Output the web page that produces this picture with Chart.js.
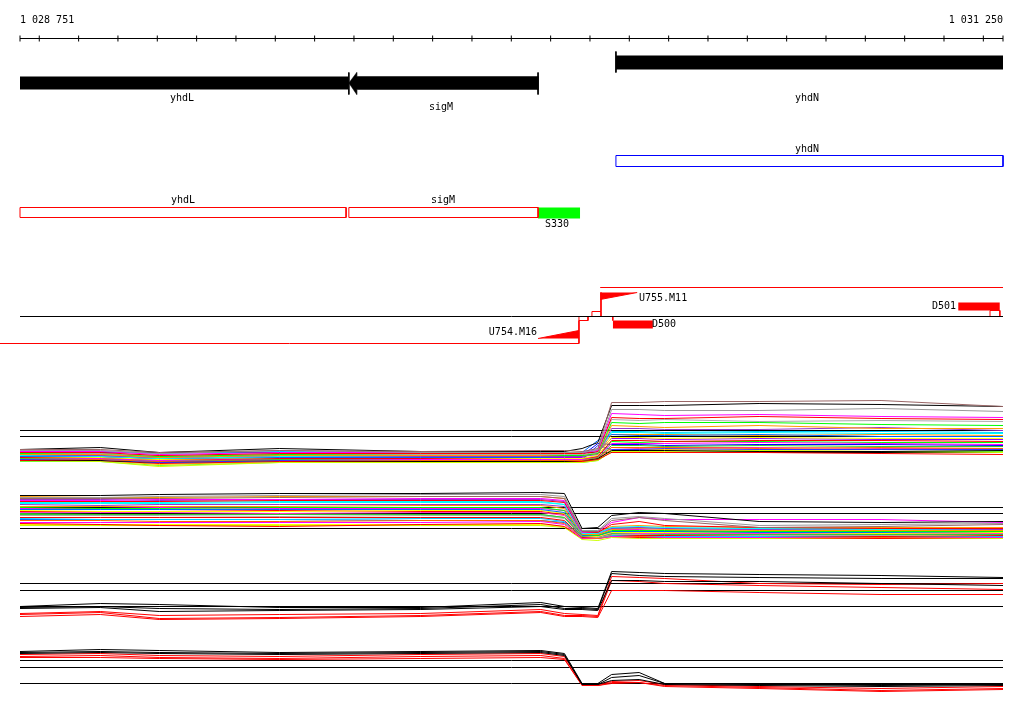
<!DOCTYPE html>
<html><head><meta charset="utf-8">
<script src="https://cdn.jsdelivr.net/npm/chart.js@4.4.0/dist/chart.umd.min.js"></script>
<style>html,body{margin:0;padding:0;background:#fff;overflow:hidden}canvas{display:block}</style>
</head><body>
<canvas id="c" width="1024" height="714"></canvas>
<script>
// ================= DATA =================
const RANGE_START = 1028751;
const RANGE_END = 1031250;
const rulerLabels = ['1 028 751', '1 031 250'];
const rulerTicks = [1028751, 1028800, 1028900, 1029000, 1029100, 1029200, 1029300, 1029400, 1029500,
  1029600, 1029700, 1029800, 1029900, 1030000, 1030100, 1030200, 1030300, 1030400, 1030500,
  1030600, 1030700, 1030800, 1030900, 1031000, 1031100, 1031200, 1031250];

// coding sequences (clipped to window)
const cdsNames = ['yhdL', 'sigM', 'yhdN'];
const cdsStart = [1028751, 1029587, 1030266];
const cdsEnd = [1029587, 1030068, 1031250];
const cdsStrand = ['-', '-', '+'];

// second annotation row
const row2Names = ['yhdN'];
const row2Start = [1030266];
const row2End = [1031250];

// third annotation row
const row3Names = ['yhdL', 'sigM'];
const row3Start = [1028751, 1029587];
const row3End = [1029580, 1030068];
const segmentName = 'S330';
const segmentStart = 1030068;
const segmentEnd = 1030175;

// transcription units
const tuNames = ['U754.M16', 'U755.M11'];
const tuBodyStart = [1028700, 1030226];
const tuBodyEnd = [1030172, 1031250];
const tuWedgeStart = [1030068, 1030226];
const tuWedgeEnd = [1030172, 1030320];
const tuBoxStart = [1030172, 1030205];
const tuBoxEnd = [1030195, 1030228];
const downNames = ['D500', 'D501'];
const downStart = [1030258, 1031136];
const downEnd = [1030360, 1031242];
const d501BoxStart = 1031217;
const d501BoxEnd = 1031242;

// probe positions of the profiles
const probePos = [1028751, 1028955, 1029105, 1029410, 1029770, 1030075, 1030135, 1030180,
  1030220, 1030255, 1030325, 1030390, 1030630, 1030940, 1031250];

// panel 1 profiles
const p1_01 = [8.6,8.6,8.3,8.5,8.4,8.5,8.5,8.4,8.7,13.3,13.3,13.4,13.4,13.5,12.9];
const p1_02 = [8.6,8.8,8.3,8.7,8.4,8.4,8.4,8.7,9.3,13.0,13.0,13.0,13.2,13.1,12.9];
const p1_03 = [8.5,8.5,8.2,8.5,8.3,8.3,8.3,8.3,8.6,12.6,12.6,12.5,12.5,12.7,12.4];
const p1_04 = [8.4,8.4,8.1,8.3,8.3,8.3,8.3,8.3,8.5,12.2,12.1,12.0,12.1,11.9,11.8];
const p1_05 = [8.3,8.3,8.0,8.2,8.2,8.2,8.2,8.2,8.4,11.8,11.7,11.7,11.9,11.7,11.6];
const p1_06 = [8.3,8.2,8.0,8.2,8.1,8.1,8.1,8.1,8.3,11.6,11.5,11.6,11.4,11.5,11.4];
const p1_07 = [8.2,8.2,7.9,8.1,8.1,8.1,8.0,8.0,8.2,11.3,11.2,11.3,11.3,11.1,11.0];
const p1_08 = [8.1,8.1,7.8,8.0,8.0,8.0,8.0,8.0,8.2,11.0,10.9,10.8,11.0,10.7,10.7];
const p1_09 = [8.1,8.0,7.8,8.0,7.9,7.9,7.9,7.9,8.1,10.7,10.7,10.6,10.6,10.8,10.5];
const p1_10 = [8.0,7.9,7.7,7.9,7.9,7.9,7.9,7.9,8.3,10.3,10.3,10.2,10.3,10.2,10.2];
const p1_11 = [7.9,7.9,7.7,7.8,7.8,7.8,7.9,8.3,9.5,10.1,10.0,10.0,10.1,9.9,9.9];
const p1_12 = [7.9,7.8,7.6,7.8,7.8,7.7,7.7,7.7,8.0,9.8,9.8,9.7,9.8,9.7,9.7];
const p1_13 = [7.8,7.8,7.6,7.7,7.7,7.7,7.7,7.7,7.9,9.5,9.5,9.4,9.5,9.5,9.4];
const p1_14 = [7.8,7.7,7.5,7.7,7.6,7.6,7.6,7.6,7.9,9.2,9.2,9.2,9.3,9.2,9.1];
const p1_15 = [7.7,7.7,7.5,7.6,7.6,7.6,7.6,7.6,7.8,9.0,9.0,8.9,9.0,8.9,8.9];
const p1_16 = [7.7,7.6,7.4,7.6,7.5,7.5,7.5,7.5,7.8,8.8,8.8,8.8,8.7,8.8,8.7];
const p1_17 = [7.6,7.6,7.3,7.5,7.5,7.5,7.5,7.6,9.0,8.6,8.6,8.7,8.6,8.6,8.6];
const p1_18 = [7.6,7.5,7.3,7.5,7.4,7.4,7.4,7.5,7.7,8.5,8.5,8.5,8.4,8.4,8.5];
const p1_19 = [7.5,7.5,7.2,7.4,7.4,7.4,7.4,7.4,7.6,8.3,8.3,8.3,8.3,8.2,8.1];
const p1_20 = [7.5,7.4,6.9,7.3,7.3,7.3,7.3,7.3,7.5,8.4,8.4,8.4,8.5,8.4,8.3];
const p1_21 = [8.5,8.4,8.2,8.4,8.3,8.3,8.3,8.3,8.5,10.4,10.4,10.3,10.4,10.4,10.3];
const p1_22 = [8.2,8.1,7.9,8.1,8.0,8.0,8.0,8.0,8.2,10.1,10.1,10.1,10.0,10.1,10.0];
const p1_23 = [8.0,8.0,7.7,7.9,7.9,7.8,7.8,7.8,8.4,9.7,9.7,9.6,9.7,9.6,9.6];
const p1_24 = [7.8,7.8,7.6,7.7,7.7,7.7,7.7,7.7,7.9,9.4,9.3,9.4,9.4,9.3,9.3];
const p1_25 = [7.7,7.7,7.4,7.6,7.6,7.6,7.6,8.0,9.2,9.1,9.1,9.0,9.1,9.1,9.0];
const p1_26 = [7.6,7.6,7.4,7.6,7.5,7.5,7.5,7.5,7.7,8.8,8.7,8.8,8.8,8.7,8.7];
const p1_27 = [7.5,7.5,7.1,7.4,7.4,7.4,7.4,7.4,7.6,8.6,8.6,8.6,8.5,8.6,8.6];
const p1_28 = [7.4,7.4,7.0,7.3,7.3,7.3,7.3,7.3,7.5,8.4,8.4,8.3,8.4,8.4,8.4];
const panel1Refs = [10.5, 9.9, 8.3];

// panel 2 profiles
const p2_01 = [13.5,13.5,13.6,13.7,13.7,13.8,13.7,10.2,10.3,11.5,11.8,11.7,10.9,10.8,10.9];
const p2_02 = [13.3,13.3,13.4,13.5,13.6,13.6,13.4,10.0,10.0,11.2,11.4,11.2,10.5,10.6,10.7];
const p2_03 = [13.2,13.2,13.2,13.3,13.4,13.4,13.2,9.9,9.9,11.0,11.3,11.0,10.3,10.4,10.6];
const p2_04 = [13.0,13.0,13.1,13.1,13.2,13.2,13.0,9.8,9.9,10.8,11.3,11.1,11.1,11.1,10.8];
const p2_05 = [12.9,12.9,12.9,13.0,13.0,13.0,12.8,9.8,9.8,10.6,10.9,10.5,10.3,10.2,10.2];
const p2_06 = [12.7,12.7,12.7,12.8,12.8,12.8,12.6,9.7,9.7,10.3,10.4,10.3,10.2,10.1,10.2];
const p2_07 = [12.6,12.5,12.6,12.6,12.6,12.6,12.4,9.7,9.7,10.2,10.3,10.2,10.1,10.1,10.1];
const p2_08 = [12.4,12.4,12.4,12.4,12.5,12.5,12.2,9.6,9.6,10.1,10.2,10.1,10.0,10.0,10.0];
const p2_09 = [12.3,12.2,12.2,12.3,12.3,12.3,12.0,9.6,9.5,10.0,10.0,10.0,9.9,9.9,9.9];
const p2_10 = [12.1,12.1,12.1,12.1,12.1,12.1,11.8,9.5,9.5,9.9,9.9,9.9,9.8,9.8,9.9];
const p2_11 = [12.0,11.9,11.9,11.9,12.0,12.0,11.7,9.5,9.4,9.8,9.8,9.8,9.8,9.7,9.8];
const p2_12 = [11.8,11.8,11.8,11.7,11.8,11.8,11.5,9.5,9.4,9.8,9.7,9.7,9.7,9.7,9.7];
const p2_13 = [11.7,11.6,11.6,11.6,11.6,11.6,11.3,9.4,9.4,9.7,9.7,9.6,9.6,9.6,9.6];
const p2_14 = [11.5,11.5,11.5,11.4,11.5,11.5,11.2,9.4,9.3,9.6,9.6,9.6,9.5,9.5,9.6];
const p2_15 = [11.3,11.3,11.3,11.3,11.3,11.3,11.0,9.3,9.3,9.6,9.5,9.5,9.5,9.4,9.5];
const p2_16 = [11.2,11.1,11.1,11.1,11.2,11.2,10.9,9.3,9.3,9.5,9.5,9.4,9.4,9.4,9.4];
const p2_17 = [11.0,11.0,10.9,10.9,11.0,11.0,10.7,9.3,9.2,9.5,9.4,9.4,9.4,9.3,9.4];
const p2_18 = [10.8,10.8,10.8,10.8,10.8,10.9,10.6,9.2,9.2,9.4,9.4,9.3,9.3,9.3,9.3];
const p2_19 = [10.7,10.6,10.5,10.4,10.6,10.7,10.4,9.2,9.2,9.4,9.3,9.3,9.3,9.2,9.3];
const p2_20 = [10.5,10.5,10.5,10.5,10.5,10.5,10.3,9.1,9.0,9.3,9.2,9.2,9.2,9.2,9.2];
const p2_21 = [13.4,13.3,13.3,13.4,13.4,13.4,13.2,9.9,9.9,10.4,10.5,10.4,10.3,10.3,10.3];
const p2_22 = [12.8,12.8,12.8,12.9,12.9,12.9,12.6,9.8,9.8,10.2,10.2,10.2,10.2,10.2,10.1];
const p2_23 = [12.2,12.2,12.3,12.2,12.2,12.2,12.0,9.7,9.6,10.1,10.1,10.0,10.1,10.0,10.0];
const p2_24 = [11.6,11.6,11.6,11.6,11.6,11.6,11.3,9.6,9.5,9.9,9.9,9.9,9.9,9.9,9.8];
const p2_25 = [11.1,11.1,11.1,11.1,11.0,11.0,10.8,9.5,9.4,9.7,9.7,9.7,9.7,9.7,9.7];
const p2_26 = [10.6,10.6,10.6,10.6,10.6,10.6,10.4,9.4,9.3,9.6,9.6,9.5,9.6,9.5,9.5];
const p2_27 = [13.1,13.1,13.0,13.1,13.1,13.1,12.9,9.8,9.8,10.3,10.3,10.2,10.2,10.2,10.2];
const p2_28 = [11.9,11.9,11.9,12.0,11.9,11.9,11.6,9.5,9.5,9.8,9.8,9.8,9.8,9.7,9.8];
const panel2Refs = [12.3, 11.7, 10.2];

// panel 3 profiles
const p3_black1 = [9.9,10.2,10.1,9.8,9.8,10.3,9.9,9.8,9.7,13.4,13.3,13.2,13.1,13.0,12.8];
const p3_black2 = [9.8,9.9,9.7,9.6,9.7,10.1,9.7,9.7,9.6,13.2,13.0,12.9,12.8,12.7,12.7];
const p3_black3 = [9.7,9.8,9.4,9.5,9.6,9.9,9.6,9.6,9.5,12.5,12.5,12.4,12.4,12.2,12.0];
const p3_red1 = [9.2,9.4,9.0,9.1,9.2,9.6,9.2,9.1,9.0,12.9,12.8,12.7,12.2,12.1,12.2];
const p3_red2 = [9.1,9.3,8.7,8.8,9.0,9.4,9.0,9.0,8.9,12.5,12.4,12.2,12.0,11.8,11.6];
const p3_red3 = [8.9,9.1,8.6,8.7,8.9,9.3,8.9,8.9,8.8,11.5,11.5,11.5,11.3,11.1,11.1];
const panel3Refs = [12.2, 11.5, 9.9];

// panel 4 profiles
const p4_black1 = [13.4,13.6,13.5,13.3,13.4,13.5,13.2,10.2,10.2,11.1,11.3,10.2,10.1,10.0,10.1];
const p4_black2 = [13.3,13.4,13.3,13.2,13.3,13.4,13.1,10.1,10.1,10.8,11.0,10.2,10.1,10.1,10.1];
const p4_black3 = [13.2,13.3,13.2,13.1,13.2,13.3,13.0,10.1,10.1,10.5,10.6,10.1,10.0,9.9,10.0];
const p4_red1 = [13.1,13.2,13.0,12.9,13.1,13.2,12.9,10.1,10.1,10.4,10.5,10.1,9.9,9.7,9.9];
const p4_red2 = [12.9,13.0,12.8,12.7,12.9,13.0,12.7,10.0,10.0,10.3,10.3,10.0,9.8,9.5,9.7];
const p4_red3 = [12.8,12.8,12.7,12.6,12.7,12.8,12.6,10.0,10.0,10.2,10.3,9.9,9.7,9.4,9.6];
const panel4Refs = [12.5, 11.8, 10.2];

// ================= LAYOUT / STYLE =================
const W = 1024, H = 714, X_LEFT_PX = 20, X_RIGHT_PX = 1003;
const bpPerPx = (RANGE_END - RANGE_START) / (X_RIGHT_PX - X_LEFT_PX);
const xMin = RANGE_START - X_LEFT_PX * bpPerPx;
const xMax = RANGE_END + (W - X_RIGHT_PX) * bpPerPx;
const L = {
  rulerLabelY: 20, rulerY: 38,
  cdsMinusTop: 76, cdsMinusBot: 89, cdsMinusTickTop: 72, cdsMinusTickBot: 94,
  cdsPlusTop: 55, cdsPlusBot: 69, cdsPlusTickTop: 51, cdsPlusTickBot: 72,
  cdsLabelY: [98, 107, 98],
  row2Top: 155, row2Bot: 166, row2LabelY: 149,
  row3Top: 207, row3Bot: 217, row3LabelY: 200, segLabelY: 224,
  tuBase: 316, tuLineY: [343, 287],
  tuWedgeFlat: [338, 292], tuWedgeTall: [330, 299],
  tuBoxTop: [316, 311], tuBoxBot: [320, 316],
  tuLabelY: [332, 298],
  downTop: [320, 302], downBot: [328, 310], downLabelY: [324, 306],
  d501BoxTop: 310, d501BoxBot: 316,
  panelZero: [535, 630, 705, 785], pxPerUnit: 10,
  arrowBp: 20
};
const colors1 = ['#996666','#000000','#999999','#FF00FF','#FF0000','#AAAAAA','#00FF00','#FF9900','#9933CC','#00FFFF',
  '#0066FF','#FFFF00','#FF0000','#FF00FF','#33CC33','#FF6600','#3333FF','#000000','#FF0000','#CCFF00',
  '#00CCFF','#FF9900','#9900FF','#00FF00','#0000FF','#FF3399','#FFCC00','#66FF33'];
const colors2 = ['#000000','#999999','#996666','#FF00FF','#FF0000','#00FFFF','#9933CC','#FF9900','#00FF00','#0066FF',
  '#FFFF00','#FF33CC','#33CC33','#AAAAAA','#FF0000','#00CCFF','#FF6600','#FF00FF','#FF0000','#CCFF00',
  '#FF9900','#00FFFF','#FF00FF','#33CC33','#0066FF','#FFFF00','#9933CC','#FF0000'];
const RED = '#FF0000';

// ================= DATASETS =================
const ds = [];
function base(extra) {
  return Object.assign({ yAxisID: 'yt', pointRadius: 0, borderWidth: 1, fill: false, tension: 0, order: 3 }, extra);
}
function hseg(x1, x2, y, color) { ds.push(base({ data: [{x:x1,y},{x:x2,y}], borderColor: color })); }
function vseg(x, y1, y2, color) { ds.push(base({ data: [{x,y:y1},{x,y:y2}], borderColor: color })); }
function rect(x1, x2, y1, y2, color) {
  ds.push(base({ data: [{x:x1,y:y1},{x:x2,y:y1}], borderWidth: 0, borderColor: 'rgba(0,0,0,0)',
    backgroundColor: color, fill: { value: y2 } }));
}
function box(x1, x2, y1, y2, color) {
  ds.push(base({ data: [{x:x1,y:y1},{x:x2,y:y1},{x:x2,y:y2},{x:x1,y:y2},{x:x1,y:y1}], borderColor: color }));
}
function poly(pts, color) {
  ds.push(base({ data: pts, borderColor: color, borderWidth: 0.5, backgroundColor: color, fill: 'shape' }));
}
function wedge(x1, y1, x2, y2, flatY, color) {
  ds.push(base({ data: [{x:x1,y:y1},{x:x2,y:y2}], borderColor: color, backgroundColor: color, fill: { value: flatY } }));
}

// ruler
hseg(RANGE_START, RANGE_END, L.rulerY, '#000');
ds.push(base({ data: rulerTicks.map(t => ({x: t, y: L.rulerY})), showLine: false,
  pointStyle: 'line', pointRotation: 90, pointRadius: 3, pointBorderWidth: 1, pointBorderColor: '#000' }));

// CDS
cdsNames.forEach((n, i) => {
  const s = cdsStart[i], e = cdsEnd[i];
  if (cdsStrand[i] === '-') {
    const top = L.cdsMinusTop, bot = L.cdsMinusBot;
    if (s > RANGE_START) {
      const mid = (top + bot) / 2, a = s + L.arrowBp;
      poly([{x:s,y:mid},{x:a,y:L.cdsMinusTickTop},{x:a,y:top},{x:e,y:top},{x:e,y:bot},{x:a,y:bot},{x:a,y:L.cdsMinusTickBot},{x:s,y:mid}], '#000');
    } else {
      rect(s, e, top, bot, '#000');
    }
    vseg(e, L.cdsMinusTickTop, L.cdsMinusTickBot, '#000');
  } else {
    rect(s, e, L.cdsPlusTop, L.cdsPlusBot, '#000');
    vseg(s, L.cdsPlusTickTop, L.cdsPlusTickBot, '#000');
  }
});
// row 2
row2Names.forEach((n, i) => box(row2Start[i], row2End[i], L.row2Top, L.row2Bot, '#0000FF'));
// row 3
row3Names.forEach((n, i) => box(row3Start[i], row3End[i], L.row3Top, L.row3Bot, RED));
rect(segmentStart, segmentEnd, L.row3Top, L.row3Bot + 1, '#00FF00');

// transcription units
hseg(RANGE_START, RANGE_END, L.tuBase, '#000');
tuNames.forEach((n, i) => {
  hseg(tuBodyStart[i], tuBodyEnd[i], L.tuLineY[i], RED);
  if (i === 0) {
    wedge(tuWedgeStart[i], L.tuWedgeFlat[i], tuWedgeEnd[i], L.tuWedgeTall[i], L.tuWedgeFlat[i], RED);
    vseg(tuBoxStart[i], L.tuBoxBot[i], L.tuLineY[i], RED);
  } else {
    wedge(tuWedgeStart[i], L.tuWedgeTall[i], tuWedgeEnd[i], L.tuWedgeFlat[i], L.tuWedgeFlat[i], RED);
    vseg(tuBoxEnd[i], L.tuWedgeFlat[i], L.tuBoxTop[i], RED);
  }
  box(tuBoxStart[i], tuBoxEnd[i], L.tuBoxTop[i], L.tuBoxBot[i], RED);
});
downNames.forEach((n, i) => rect(downStart[i], downEnd[i], L.downTop[i], L.downBot[i], RED));
vseg(downStart[0], L.tuBase, L.downTop[0], RED);
box(d501BoxStart, d501BoxEnd, L.d501BoxTop, L.d501BoxBot, RED);

// profile panels
function addPanel(axis, series, colors, refs) {
  series.forEach((vals, i) => {
    ds.push({ yAxisID: axis, data: probePos.map((p, j) => ({x: p, y: vals[j]})),
      borderColor: colors[i], borderWidth: 1, pointRadius: 0, fill: false, tension: 0, order: 1 });
  });
  refs.forEach(r => ds.push({ yAxisID: axis, data: [{x: RANGE_START, y: r}, {x: RANGE_END, y: r}],
    borderColor: '#000', borderWidth: 1, pointRadius: 0, fill: false, order: 9 }));
}
addPanel('p1', [p1_01,p1_02,p1_03,p1_04,p1_05,p1_06,p1_07,p1_08,p1_09,p1_10,p1_11,p1_12,p1_13,p1_14,
  p1_15,p1_16,p1_17,p1_18,p1_19,p1_20,p1_21,p1_22,p1_23,p1_24,p1_25,p1_26,p1_27,p1_28], colors1, panel1Refs);
addPanel('p2', [p2_01,p2_02,p2_03,p2_04,p2_05,p2_06,p2_07,p2_08,p2_09,p2_10,p2_11,p2_12,p2_13,p2_14,
  p2_15,p2_16,p2_17,p2_18,p2_19,p2_20,p2_21,p2_22,p2_23,p2_24,p2_25,p2_26,p2_27,p2_28], colors2, panel2Refs);
addPanel('p3', [p3_black1,p3_black2,p3_black3,p3_red1,p3_red2,p3_red3], ['#000','#000','#000',RED,RED,RED], panel3Refs);
addPanel('p4', [p4_black1,p4_black2,p4_black3,p4_red1,p4_red2,p4_red3], ['#000','#000','#000',RED,RED,RED], panel4Refs);

// ================= TEXT =================
const texts = [];
texts.push({ t: rulerLabels[0], x: RANGE_START, y: L.rulerLabelY, a: 'left', dx: 0 });
texts.push({ t: rulerLabels[1], x: RANGE_END, y: L.rulerLabelY, a: 'right', dx: 0 });
cdsNames.forEach((n, i) => texts.push({ t: n, x: (cdsStart[i] + cdsEnd[i]) / 2, y: L.cdsLabelY[i], a: 'center', dx: -2 }));
row2Names.forEach((n, i) => texts.push({ t: n, x: (row2Start[i] + row2End[i]) / 2, y: L.row2LabelY, a: 'center', dx: -2 }));
row3Names.forEach((n, i) => texts.push({ t: n, x: (row3Start[i] + row3End[i]) / 2, y: L.row3LabelY, a: 'center', dx: 0 }));
texts.push({ t: segmentName, x: (segmentStart + segmentEnd) / 2, y: L.segLabelY, a: 'center', dx: -2 });
texts.push({ t: tuNames[0], x: tuWedgeStart[0], y: L.tuLabelY[0], a: 'right', dx: -1 });
texts.push({ t: tuNames[1], x: tuWedgeEnd[1], y: L.tuLabelY[1], a: 'left', dx: 2 });
texts.push({ t: downNames[0], x: downEnd[0], y: L.downLabelY[0], a: 'left', dx: -1 });
texts.push({ t: downNames[1], x: downStart[1], y: L.downLabelY[1], a: 'right', dx: -2 });

const textPlugin = {
  id: 'trackText',
  afterDatasetsDraw(chart) {
    const { ctx } = chart, xs = chart.scales.x, ys = chart.scales.yt;
    ctx.save();
    ctx.font = '10px "DejaVu Sans Mono", monospace';
    ctx.fillStyle = '#000';
    ctx.textBaseline = 'middle';
    texts.forEach(o => {
      ctx.textAlign = o.a;
      ctx.fillText(o.t, Math.round(xs.getPixelForValue(o.x) + o.dx), ys.getPixelForValue(o.y));
    });
    ctx.restore();
  }
};

function panelAxis(i) {
  const z = L.panelZero[i] + 0.5;
  return { type: 'linear', display: false, min: (z - H) / L.pxPerUnit, max: z / L.pxPerUnit };
}

new Chart(document.getElementById('c'), {
  type: 'line',
  data: { datasets: ds },
  options: {
    responsive: false, animation: false, devicePixelRatio: 1,
    layout: { padding: 0, autoPadding: false },
    events: [],
    plugins: { legend: { display: false }, tooltip: { enabled: false } },
    scales: {
      x: { type: 'linear', display: false, min: xMin, max: xMax },
      yt: { type: 'linear', display: false, reverse: true, min: -0.5, max: H - 0.5 },
      p1: panelAxis(0), p2: panelAxis(1), p3: panelAxis(2), p4: panelAxis(3)
    }
  },
  plugins: [textPlugin]
});
</script>
</body></html>
